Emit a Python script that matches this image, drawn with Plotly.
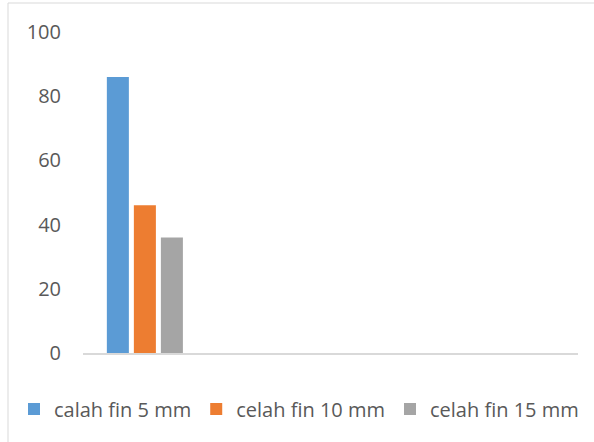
import plotly.graph_objects as go

categories = [1, 2, 3, 4]
series_names = ["calah fin 5 mm", "celah fin 10 mm", "celah fin 15 mm"]
fin5 = [86, None, None, None]
fin10 = [46, None, None, None]
fin15 = [36, None, None, None]
y_ticks = [0, 20, 40, 60, 80, 100]

colors = ["#5b9bd5", "#ed7d31", "#a5a5a5"]

fig = go.Figure()
for name, vals, c in zip(series_names, [fin5, fin10, fin15], colors):
    fig.add_trace(go.Bar(x=categories, y=vals, name=name, marker=dict(color=c, line=dict(width=0))))

W, H = 594, 442
l, r, t, b = 83, 16, 32, 89
pw, ph = W - l - r, H - t - b

def px(x):
    return (x - l) / pw

def py(y):
    return (H - b - y) / ph

fig.update_layout(
    width=W, height=H,
    margin=dict(l=l, r=r, t=t, b=b, autoexpand=False),
    paper_bgcolor="white", plot_bgcolor="white",
    barmode="group", bargap=0.345, bargroupgap=0.185,
    font=dict(family="Open Sans", size=20, color="#595959"),
    showlegend=True,
    legend=dict(orientation="h", x=px(14), xanchor="left", y=py(409), yanchor="middle",
                font=dict(size=20, color="#595959"), itemwidth=30, tracegroupgap=0,
                itemclick=False, bgcolor="rgba(0,0,0,0)", borderwidth=0),
    xaxis=dict(range=[0.5, 4.5], showticklabels=False, showgrid=False, zeroline=False,
               showline=True, linecolor="#d9d9d9", linewidth=2, ticks=""),
    yaxis=dict(range=[0, 100], tickvals=y_ticks, showgrid=False, zeroline=False,
               showline=False, ticks="", ticklabelstandoff=21),
    shapes=[dict(type="rect", xref="paper", yref="paper",
                 x0=px(8), x1=px(620), y0=py(470), y1=py(3),
                 line=dict(color="#d9d9d9", width=1), fillcolor="rgba(0,0,0,0)", layer="below")],
)

fig.write_html("out.html", config={"displayModeBar": False},
               post_script="document.body.style.margin='0';")
